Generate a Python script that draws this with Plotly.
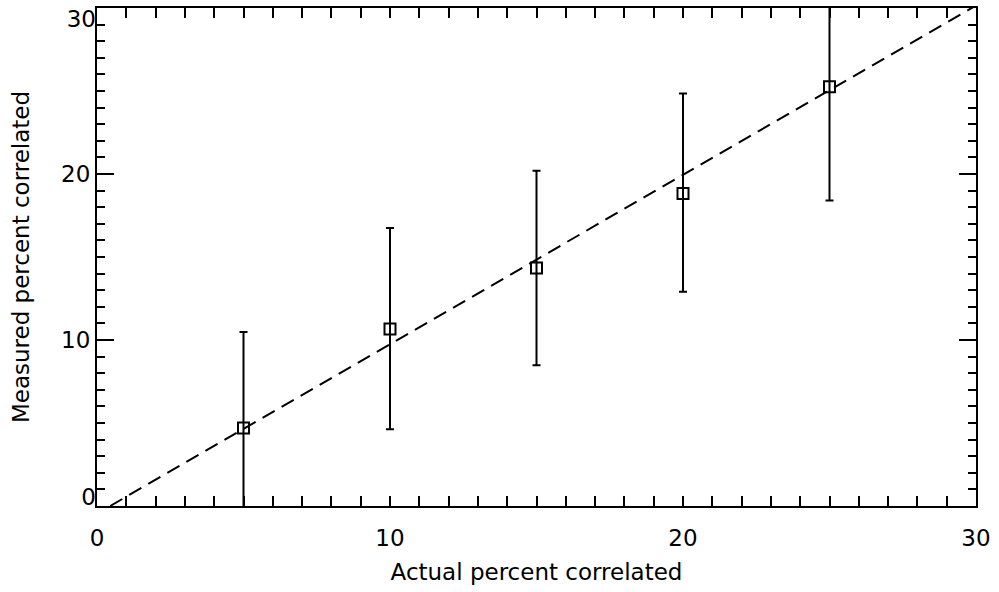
import plotly.graph_objects as go

actual = [5, 10, 15, 20, 25]
measured = [4.7, 10.66, 14.34, 18.82, 25.25]
err_high = [10.48, 16.75, 20.2, 24.85, 31.5]
err_low = [-1.2, 4.62, 8.48, 12.9, 18.4]

line_x = [0.45, 30.0]
line_y = [0.0, 30.15]

x_ticks = [0, 10, 20, 30]
y_ticks = [0, 10, 20, 30]
y_tick_text = ["", "10", "20", ""]

err_plus = [h - m for h, m in zip(err_high, measured)]
err_minus = [m - l for m, l in zip(measured, err_low)]

font_family = "DejaVu Sans"
fs = 23

fig = go.Figure()
fig.add_trace(go.Scatter(
    x=line_x, y=line_y, mode="lines",
    line=dict(color="black", width=2, dash="14px,8px"),
    showlegend=False, hoverinfo="skip",
))
fig.add_trace(go.Scatter(
    x=actual, y=measured, mode="markers",
    marker=dict(symbol="square-open", size=11, color="black", line=dict(width=2, color="black")),
    error_y=dict(type="data", symmetric=False, array=err_plus, arrayminus=err_minus,
                 color="black", thickness=2, width=4),
    showlegend=False,
))
# placeholder traces so the overlay label axes exist
fig.add_trace(go.Scatter(x=[None], y=[None], yaxis="y2", showlegend=False, hoverinfo="skip"))
fig.add_trace(go.Scatter(x=[None], y=[None], yaxis="y3", showlegend=False, hoverinfo="skip"))

axis_common = dict(
    showline=True, linecolor="black", linewidth=2, mirror="allticks",
    ticks="inside", tickcolor="black", tickwidth=2,
    showgrid=False, zeroline=False,
    tickfont=dict(family=font_family, size=fs, color="black"),
)

fig.update_layout(
    xaxis=dict(
        range=[0, 30], tickmode="array", tickvals=x_ticks, ticklen=10,
        ticklabelstandoff=10,
        minor=dict(dtick=1, ticks="inside", ticklen=5, tickwidth=2, tickcolor="black", showgrid=False),
        title=dict(text="Actual percent correlated", font=dict(family=font_family, size=fs, color="black"), standoff=14),
        **axis_common,
    ),
    yaxis=dict(
        range=[0, 30], tickmode="array", tickvals=y_ticks, ticktext=y_tick_text, ticklen=17,
        minor=dict(dtick=1, ticks="inside", ticklen=8, tickwidth=2, tickcolor="black", showgrid=False),
        title=dict(text="Measured percent correlated", font=dict(family=font_family, size=fs, color="black"), standoff=25),
        **axis_common,
    ),
    yaxis2=dict(
        overlaying="y", side="left", range=[0, 30], tickmode="array", tickvals=[0], ticktext=["0"],
        ticks="", showline=False, showgrid=False, zeroline=False, ticklabelshift=-9,
        ticklabeloverflow="allow",
        tickfont=dict(family=font_family, size=fs, color="black"),
    ),
    yaxis3=dict(
        overlaying="y", side="left", range=[0, 30], tickmode="array", tickvals=[30], ticktext=["30"],
        ticks="", showline=False, showgrid=False, zeroline=False, ticklabelshift=11,
        ticklabeloverflow="allow",
        tickfont=dict(family=font_family, size=fs, color="black"),
    ),
    width=999, height=592,
    margin=dict(l=97, r=23, t=8, b=86, autoexpand=False),
    plot_bgcolor="white", paper_bgcolor="white",
    font=dict(family=font_family, color="black"),
)

fig.write_html("out.html", config={"displayModeBar": False},
               post_script="document.body.style.margin='0';")
